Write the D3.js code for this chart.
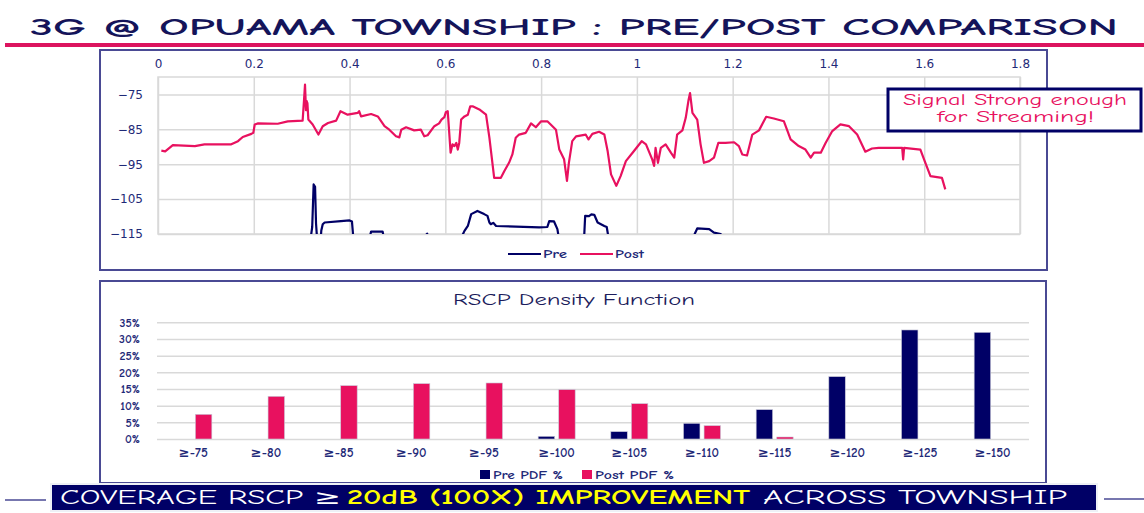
<!DOCTYPE html>
<html lang="en">
<head>
<meta charset="UTF-8">
<title>3G @ OPUAMA TOWNSHIP</title>
<script src="https://d3js.org/d3.v7.min.js"></script>
<style>
  body { margin: 0; background: #fff; }
  svg { display: block; }
  .comic { font-family: "Comic Sans MS", "Comic Neue", "DejaVu Sans", sans-serif; }
  .num { font-family: "DejaVu Sans", Verdana, sans-serif; }
</style>
</head>
<body>
<script>
  var width = 1144, height = 513;

  // ---- drive test: distance (km) vs RSCP (dBm) ----
  var postDist = [0.007, 0.015, 0.031, 0.077, 0.097, 0.153, 0.167, 0.177, 0.195, 0.199, 0.202, 0.209, 0.250, 0.271, 0.302,
    0.305, 0.307, 0.309, 0.310, 0.312, 0.314, 0.323, 0.335, 0.344, 0.355, 0.372, 0.381, 0.396, 0.417, 0.420, 0.424,
    0.445, 0.459, 0.473, 0.483, 0.497, 0.504, 0.508, 0.518, 0.535, 0.549, 0.556, 0.563, 0.577, 0.587, 0.592, 0.598,
    0.601, 0.605, 0.606, 0.611, 0.615, 0.619, 0.623, 0.626, 0.629, 0.633, 0.640, 0.647, 0.652, 0.657, 0.671, 0.685,
    0.692, 0.702, 0.716, 0.723, 0.733, 0.740, 0.747, 0.754, 0.768, 0.779, 0.789, 0.800, 0.813, 0.820, 0.831, 0.838,
    0.848, 0.854, 0.858, 0.865, 0.873, 0.893, 0.899, 0.907, 0.921, 0.932, 0.939, 0.946, 0.957, 0.966, 0.977, 0.991,
    1.010, 1.019, 1.032, 1.036, 1.039, 1.044, 1.050, 1.060, 1.071, 1.078, 1.084, 1.095, 1.102, 1.108, 1.111, 1.116,
    1.126, 1.133, 1.140, 1.151, 1.161, 1.170, 1.185, 1.203, 1.213, 1.220, 1.230, 1.241, 1.255, 1.270, 1.286, 1.307,
    1.321, 1.338, 1.352, 1.363, 1.370, 1.384, 1.394, 1.408, 1.425, 1.443, 1.460, 1.477, 1.491, 1.505, 1.554, 1.556,
    1.558, 1.592, 1.601, 1.613, 1.637, 1.644];
  var postRscp = [-91.1, -91.3, -89.5, -89.8, -89.3, -89.3, -88.4, -87.2, -86.3, -86.0, -83.6, -83.3, -83.4, -82.7, -82.5,
    -76.5, -72.2, -79.5, -76.8, -77.5, -82.2, -83.6, -86.5, -84.1, -83.2, -82.5, -79.8, -80.8, -80.3, -79.8, -81.3,
    -80.6, -81.3, -84.1, -85.1, -87.0, -87.3, -85.1, -84.4, -85.3, -85.1, -87.0, -86.7, -84.1, -83.3, -82.2, -81.5,
    -80.1, -79.8, -81.7, -91.7, -89.3, -89.8, -88.9, -90.8, -88.9, -82.2, -81.3, -80.8, -78.4, -78.4, -79.3, -80.8,
    -87.4, -98.9, -98.9, -97.0, -94.6, -92.2, -87.4, -86.5, -86.0, -83.3, -84.4, -82.7, -82.7, -83.6, -85.1, -90.8,
    -93.6, -99.8, -94.6, -88.4, -87.0, -86.5, -87.9, -86.3, -85.7, -86.5, -91.3, -97.9, -101.2, -98.4, -94.1, -91.7,
    -88.4, -89.3, -93.6, -95.5, -90.3, -94.6, -90.3, -89.3, -91.7, -93.1, -86.5, -85.3, -81.7, -76.5, -74.6, -80.3,
    -82.2, -89.3, -94.6, -94.1, -93.1, -88.9, -88.9, -88.7, -89.8, -92.2, -92.5, -86.5, -85.3, -81.4, -81.9, -82.7,
    -87.9, -89.8, -90.8, -93.1, -91.7, -91.7, -88.9, -85.5, -83.6, -84.1, -86.5, -91.4, -90.5, -90.3, -90.3, -93.6,
    -90.3, -90.8, -94.1, -98.4, -98.9, -102.2];

  var preDist = [0.300, 0.310, 0.318, 0.322, 0.325, 0.328, 0.330, 0.333, 0.338, 0.341, 0.344, 0.348, 0.382, 0.400, 0.405,
    0.409, 0.420, 0.440, 0.445, 0.469, 0.473, 0.500, 0.540, 0.555, 0.562, 0.566, 0.600, 0.630, 0.640, 0.647, 0.654,
    0.667, 0.681, 0.688, 0.692, 0.695, 0.700, 0.706, 0.796, 0.813, 0.817, 0.827, 0.834, 0.838, 0.860, 0.885, 0.890,
    0.892, 0.900, 0.905, 0.911, 0.918, 0.932, 0.937, 0.942, 0.980, 1.050, 1.110, 1.120, 1.126, 1.151, 1.161, 1.175,
    1.185, 1.250, 1.350, 1.450, 1.550, 1.650];
  var preRscp = [-119, -116, -117, -113, -100.8, -101.5, -112, -118, -120, -114, -112.2, -111.7, -111.3, -111.1, -111.4,
    -118, -121, -117, -114.3, -114.3, -117, -120, -119, -116, -114.9, -116, -120, -117, -114.1, -112.7, -109.3,
    -108.4, -109.3, -109.8, -111.7, -112.2, -111.8, -112.7, -113.1, -113.0, -111.3, -111.4, -113.6, -117, -121, -118, -115.5,
    -109.8, -109.9, -109.4, -109.5, -111.7, -112.7, -113.0, -117, -121, -122, -118, -115.2, -113.4, -113.6, -114.6, -115,
    -117, -121, -123, -121, -122, -120];

  var distTicks = [0, 0.2, 0.4, 0.6, 0.8, 1, 1.2, 1.4, 1.6, 1.8];
  var rscpTicks = [-115, -105, -95, -85, -75];

  // ---- RSCP density function ----
  var bins = ["≥-75", "≥-80", "≥-85", "≥-90", "≥-95", "≥-100", "≥-105", "≥-110", "≥-115", "≥-120", "≥-125", "≥-150"];
  var prePdf = [0, 0, 0, 0, 0, 0.008, 0.022, 0.047, 0.088, 0.187, 0.327, 0.320];
  var postPdf = [0.074, 0.128, 0.160, 0.166, 0.168, 0.148, 0.106, 0.040, 0.006, 0, 0, 0];
  var pctTicks = [0, 0.05, 0.10, 0.15, 0.20, 0.25, 0.30, 0.35];

  var navy = "#000066", pink = "#e8115f", textNavy = "#1f2a78", grid = "#d9d9d9", frame = "#4a4a94";

  var svg = d3.select("body").append("svg")
    .attr("width", width)
    .attr("height", height);

  // ---------- slide title ----------
  svg.append("text")
    .attr("class", "comic")
    .attr("x", 30).attr("y", 35)
    .attr("textLength", 1088).attr("lengthAdjust", "spacingAndGlyphs")
    .attr("font-size", 25).attr("font-weight", "bold")
    .attr("fill", "#14145a")
    .text("3G @ OPUAMA TOWNSHIP : PRE/POST COMPARISON");

  svg.append("rect")
    .attr("x", 5).attr("y", 43).attr("width", width - 5).attr("height", 4)
    .attr("fill", "#dc145f");

  // ---------- top chart: line ----------
  svg.append("rect")
    .attr("x", 100).attr("y", 50).attr("width", 947).attr("height", 220)
    .attr("fill", "none").attr("stroke", frame).attr("stroke-width", 2);

  var x = d3.scaleLinear().domain([0, 1.8]).range([158, 1020]);
  var y = d3.scaleLinear().domain([-115, -70]).range([234, 77]);

  svg.append("clipPath").attr("id", "plotClip")
    .append("rect")
    .attr("x", x(0)).attr("y", y(-70))
    .attr("width", x(1.8) - x(0)).attr("height", y(-115) - y(-70));

  svg.append("rect")
    .attr("x", x(0)).attr("y", y(-70))
    .attr("width", x(1.8) - x(0)).attr("height", y(-115) - y(-70))
    .attr("fill", "none").attr("stroke", grid).attr("stroke-width", 1.5);

  var xAxis = svg.append("g")
    .attr("transform", "translate(0," + y(-70) + ")")
    .call(d3.axisTop(x).tickValues(distTicks).tickFormat(d3.format("~g"))
      .tickSize(-(y(-115) - y(-70))).tickSizeOuter(0).tickPadding(9));
  xAxis.select(".domain").remove();
  xAxis.selectAll("line").attr("stroke", grid).attr("stroke-width", 1.5);
  xAxis.selectAll("text").attr("class", "num").attr("font-size", 12).attr("fill", textNavy);

  var yAxis = svg.append("g")
    .attr("transform", "translate(" + x(0) + ",0)")
    .call(d3.axisLeft(y).tickValues(rscpTicks)
      .tickSize(-(x(1.8) - x(0))).tickSizeOuter(0).tickPadding(15));
  yAxis.select(".domain").remove();
  yAxis.selectAll("line").attr("stroke", grid).attr("stroke-width", 1.5);
  yAxis.selectAll("text").attr("class", "num").attr("font-size", 12).attr("fill", textNavy);

  var line = d3.line()
    .x(function (d) { return x(d[0]); })
    .y(function (d) { return y(d[1]); });

  var preData = d3.zip(preDist, preRscp);
  var postData = d3.zip(postDist, postRscp);

  var lines = svg.append("g").attr("clip-path", "url(#plotClip)");
  lines.append("path").datum(preData)
    .attr("d", line).attr("fill", "none")
    .attr("stroke", navy).attr("stroke-width", 2.2).attr("stroke-linejoin", "round");
  lines.append("path").datum(postData)
    .attr("d", line).attr("fill", "none")
    .attr("stroke", pink).attr("stroke-width", 2.2).attr("stroke-linejoin", "round");

  // legend
  var lineLegend = [{ name: "Pre", color: navy, x0: 508, w: 24 }, { name: "Post", color: pink, x0: 580, w: 29 }];
  var ll = svg.append("g").selectAll("g").data(lineLegend).join("g")
    .attr("transform", function (d) { return "translate(" + d.x0 + ",254)"; });
  ll.append("line").attr("x1", 0).attr("x2", 33).attr("y1", 0).attr("y2", 0)
    .attr("stroke", function (d) { return d.color; }).attr("stroke-width", 2);
  ll.append("text").attr("class", "comic")
    .attr("x", 35).attr("y", 4)
    .attr("textLength", function (d) { return d.w; }).attr("lengthAdjust", "spacingAndGlyphs")
    .attr("font-size", 12).attr("font-weight", "bold").attr("fill", textNavy)
    .text(function (d) { return d.name; });

  // callout
  svg.append("rect")
    .attr("x", 888).attr("y", 89).attr("width", 253).attr("height", 42)
    .attr("fill", "#fff").attr("stroke", navy).attr("stroke-width", 3);
  svg.append("text").attr("class", "comic")
    .attr("x", 903).attr("y", 105)
    .attr("textLength", 224).attr("lengthAdjust", "spacingAndGlyphs")
    .attr("font-size", 15).attr("fill", pink)
    .text("Signal Strong enough");
  svg.append("text").attr("class", "comic")
    .attr("x", 937).attr("y", 122)
    .attr("textLength", 157).attr("lengthAdjust", "spacingAndGlyphs")
    .attr("font-size", 15).attr("fill", pink)
    .text("for Streaming!");

  // ---------- bottom chart: density bars ----------
  svg.append("rect")
    .attr("x", 100).attr("y", 281).attr("width", 946).attr("height", 202)
    .attr("fill", "none").attr("stroke", frame).attr("stroke-width", 2);

  svg.append("text").attr("class", "comic")
    .attr("x", 574).attr("y", 305)
    .attr("text-anchor", "middle")
    .attr("textLength", 242).attr("lengthAdjust", "spacingAndGlyphs")
    .attr("font-size", 15).attr("fill", "#1c1c5c")
    .text("RSCP Density Function");

  var xb = d3.scaleBand().domain(bins).range([157, 1029]);
  var series = ["pre", "post"];
  var xs = d3.scaleBand().domain(series)
    .range([xb.bandwidth() / 2 - 18.5, xb.bandwidth() / 2 + 18.5]).paddingInner(0.2);
  var yb = d3.scaleLinear().domain([0, 0.35]).range([439, 322.3]);

  var ybAxis = svg.append("g")
    .attr("transform", "translate(157,0)")
    .call(d3.axisLeft(yb).tickValues(pctTicks).tickFormat(d3.format(".0%"))
      .tickSize(-(1029 - 157)).tickSizeOuter(0).tickPadding(17));
  ybAxis.select(".domain").remove();
  ybAxis.selectAll("line").attr("stroke", grid).attr("stroke-width", 1.5);
  ybAxis.selectAll("text").attr("class", "comic").attr("font-size", 12)
    .attr("font-weight", "bold").attr("fill", textNavy);

  var xbAxis = svg.append("g")
    .attr("transform", "translate(0," + yb(0) + ")")
    .call(d3.axisBottom(xb).tickSize(0).tickPadding(9));
  xbAxis.select(".domain").remove();
  xbAxis.selectAll("text").attr("class", "comic").attr("font-size", 13)
    .attr("font-weight", "bold").attr("fill", textNavy);

  var barData = bins.map(function (b, i) {
    return { bin: b, values: [{ key: "pre", v: prePdf[i] }, { key: "post", v: postPdf[i] }] };
  });
  var color = d3.scaleOrdinal().domain(series).range([navy, pink]);

  svg.append("g").selectAll("g").data(barData).join("g")
    .attr("transform", function (d) { return "translate(" + xb(d.bin) + ",0)"; })
    .selectAll("rect").data(function (d) { return d.values.filter(function (e) { return e.v > 0; }); })
    .join("rect")
    .attr("x", function (d) { return xs(d.key); })
    .attr("width", xs.bandwidth())
    .attr("y", function (d) { return yb(d.v); })
    .attr("height", function (d) { return yb(0) - yb(d.v); })
    .attr("fill", function (d) { return color(d.key); })
    .attr("stroke", "#c8c8d8").attr("stroke-width", 0.6);

  var barLegend = [{ name: "Pre PDF %", key: "pre", x0: 480, w: 70 }, { name: "Post PDF %", key: "post", x0: 582, w: 79 }];
  var bl = svg.append("g").selectAll("g").data(barLegend).join("g")
    .attr("transform", function (d) { return "translate(" + d.x0 + ",470)"; });
  bl.append("rect").attr("width", 10).attr("height", 9)
    .attr("fill", function (d) { return color(d.key); });
  bl.append("text").attr("class", "comic")
    .attr("x", 13).attr("y", 9)
    .attr("textLength", function (d) { return d.w; }).attr("lengthAdjust", "spacingAndGlyphs")
    .attr("font-size", 12).attr("font-weight", "bold").attr("fill", textNavy)
    .text(function (d) { return d.name; });

  // ---------- bottom banner ----------
  svg.append("line").attr("x1", 5).attr("x2", 46).attr("y1", 500).attr("y2", 500)
    .attr("stroke", frame).attr("stroke-width", 1.5);
  svg.append("line").attr("x1", 1104).attr("x2", width).attr("y1", 499).attr("y2", 499)
    .attr("stroke", frame).attr("stroke-width", 1.5);

  svg.append("rect")
    .attr("x", 51).attr("y", 484).attr("width", 1046).attr("height", 27)
    .attr("fill", navy).attr("stroke", "#eef0f6").attr("stroke-width", 2);

  var banner = [
    { t: "COVERAGE RSCP ≥", x0: 60, w: 281, c: "#ffffff", b: "normal" },
    { t: "20dB (100X) IMPROVEMENT", x0: 347, w: 403, c: "#ffff00", b: "bold" },
    { t: "ACROSS TOWNSHIP", x0: 763, w: 304, c: "#ffffff", b: "normal" }
  ];
  svg.append("g").selectAll("text").data(banner).join("text")
    .attr("class", "comic")
    .attr("x", function (d) { return d.x0; }).attr("y", 504)
    .attr("textLength", function (d) { return d.w; })
    .attr("lengthAdjust", "spacingAndGlyphs")
    .attr("font-size", 20)
    .attr("font-weight", function (d) { return d.b; })
    .attr("fill", function (d) { return d.c; })
    .text(function (d) { return d.t; });
</script>
</body>
</html>
